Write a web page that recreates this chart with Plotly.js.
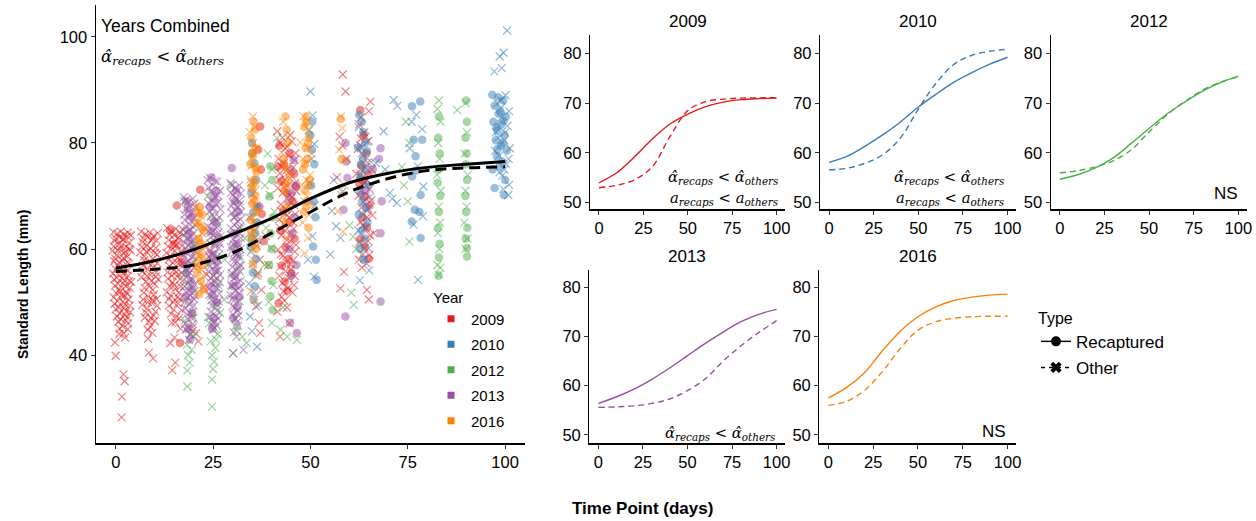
<!DOCTYPE html>
<html>
<head>
<meta charset="utf-8">
<script src="https://cdn.plot.ly/plotly-3.0.1.min.js"></script>
<style>html,body{margin:0;padding:0;background:#fff;}#chart{width:1256px;height:521px;}</style>
</head>
<body>
<div id="chart"></div>
<script>
// ---------------- DATA ----------------
const years = ['2009', '2010', '2012', '2013', '2016'];
const yearColors = ['#E41A1C', '#377EB8', '#4DAF4A', '#984EA3', '#FF7F00'];
const typeLabels = ['Recaptured', 'Other'];

// observed points [time point (days), standard length (mm)]
const obs2009Other = [
 [-0.6,63.2],[0.4,62.9],[1.3,63.3],[2.2,62.7],[3.1,63.1],[3.9,62.6],
 [-0.3,61.6],[0.8,60.9],[1.8,61.8],[2.7,60.4],[3.5,61.2],
 [-0.8,59.7],[0.2,58.9],[1.1,60.1],[2.0,59.2],[3.0,58.6],[3.8,59.8],
 [-0.4,57.7],[0.6,56.8],[1.6,57.9],[2.5,56.3],[3.4,57.2],
 [-0.7,55.4],[0.3,54.6],[1.2,55.9],[2.3,54.1],[3.2,55.0],[4.0,53.8],
 [-0.2,53.1],[0.9,52.4],[1.9,53.5],[2.8,51.8],[3.6,52.7],
 [-0.5,50.9],[0.5,50.2],[1.5,51.3],[2.4,49.6],[3.3,50.5],
 [0.0,48.7],[1.0,47.9],[2.1,48.9],[2.9,47.2],[3.7,48.1],
 [0.7,46.3],[1.7,45.5],[2.6,46.6],[3.1,44.9],[2.0,44.1],
 [-0.2,42.4],[0.0,39.9],[2.0,36.4],[2.3,35.1],[1.6,32.2],[1.5,28.3],
 [0.0,62.0],[1.0,62.2],[2.0,61.9],[3.0,62.4],[-0.5,60.5],[0.5,59.8],[1.5,60.7],[2.5,59.5],[3.5,60.0],[-0.1,58.2],
 [1.0,57.4],[2.0,58.3],[3.0,57.5],[0.0,56.2],[1.0,56.4],[2.0,55.4],[3.1,56.0],[-0.4,54.3],[0.6,53.5],[1.6,54.5],
 [2.6,53.0],[3.5,54.0],[0.1,51.7],[1.1,52.0],[2.1,51.1],[3.0,51.5],[-0.3,49.7],[0.8,49.0],[1.8,50.1],[2.7,48.3],
 [3.6,49.4],[0.3,47.3],[1.3,46.8],[2.3,47.6],[1.0,45.0],[2.4,43.3],[3.2,46.0],[0.9,44.0],
 [6.5,63.3],[7.6,62.8],[8.7,63.1],[9.8,62.5],[10.8,63.0],
 [6.9,61.3],[8.0,60.7],[9.1,61.6],[10.3,60.2],
 [6.3,59.4],[7.4,58.6],[8.5,59.8],[9.6,58.1],[10.6,59.0],
 [7.0,56.9],[8.2,56.2],[9.3,57.3],[10.4,55.6],
 [6.6,54.7],[7.8,53.9],[8.9,55.1],[10.0,53.4],[10.9,54.3],
 [7.2,51.8],[8.4,51.1],[9.5,52.3],[10.5,50.6],
 [6.8,49.5],[8.1,48.8],[9.2,49.9],[10.2,48.2],
 [7.5,47.1],[8.6,46.3],[9.7,47.5],[8.9,45.4],[9.4,44.2],[8.3,43.1],[8.5,40.5],[9.6,39.4],
 [7.1,62.0],[8.3,62.3],[9.4,62.0],[10.5,61.6],[6.7,60.4],[7.9,59.5],[9.0,60.1],[10.1,59.3],[7.3,57.9],[8.4,57.5],
 [9.6,56.5],[10.7,57.3],[6.9,55.8],[8.0,54.9],[9.2,54.0],[10.3,54.8],[7.4,52.7],[8.6,53.0],[9.8,51.4],[7.0,50.5],
 [8.3,50.0],[9.5,50.4],[10.6,49.3],[7.8,48.0],[9.0,47.0],[10.0,46.5],[8.2,44.8],
 [13.2,64.0],[14.3,63.4],[15.4,63.8],[16.5,63.1],[17.3,63.6],
 [13.6,61.7],[14.8,61.0],[15.9,62.0],[17.0,60.6],
 [13.0,59.3],[14.1,58.6],[15.2,59.7],[16.3,58.0],[17.2,59.0],
 [13.8,56.8],[15.0,56.1],[16.1,57.2],[16.9,55.5],
 [13.4,54.4],[14.6,53.7],[15.7,54.9],[16.7,53.0],
 [13.1,51.9],[14.2,51.2],[15.3,52.5],[16.4,50.6],
 [13.7,49.3],[14.9,48.6],[16.0,49.8],[15.5,47.2],[14.4,46.1],[16.6,45.0],[15.1,43.3],[14.0,42.3],[14.5,37.2],[15.3,38.6],
 [13.9,62.7],[15.1,62.6],[16.2,62.2],[13.4,60.5],[14.5,60.0],[15.6,60.8],[16.8,59.6],[13.6,58.0],[14.7,57.4],[15.9,58.4],
 [17.0,57.3],[13.3,55.6],[14.4,55.0],[15.5,55.6],[16.6,54.4],[13.9,53.0],[15.0,53.2],[16.2,51.8],[13.6,50.6],[14.8,50.0],
 [15.9,51.0],[16.9,48.5],[14.2,47.8],[15.3,46.2],[16.3,47.0],
 [19.8,45.3],[20.6,44.1],[21.2,42.6],[19.5,47.6],[22.8,57.5],[23.4,55.2],[24.1,59.6],[22.5,52.8],[25.5,54.0],
 [36.2,60.6],[37.0,58.0],[36.5,55.5],[37.4,52.3],[36.0,49.2],[36.8,46.1],[37.1,44.2],[42.2,43.5],[38.5,62.5],[39.2,57.0],
 [41.5,82.2],[42.8,81.0],[44.0,79.3],[45.2,80.3],[46.2,78.1],
 [41.8,77.0],[43.1,76.2],[44.4,77.6],[45.6,75.4],
 [42.2,74.3],[43.5,73.1],[44.8,74.6],[46.0,72.4],
 [41.6,71.5],[42.9,70.6],[44.1,71.9],[45.3,69.8],[46.4,70.9],
 [42.4,68.4],[43.7,67.5],[45.0,68.7],[46.1,66.6],
 [41.9,65.6],[43.2,64.7],[44.5,65.9],[45.7,63.8],
 [42.6,62.6],[43.9,61.7],[45.1,62.9],[46.3,60.8],
 [41.7,59.9],[43.0,58.8],[44.3,60.1],[45.5,57.9],
 [42.3,56.7],[43.6,55.8],[44.9,57.1],[46.0,54.9],
 [42.8,53.6],[44.2,52.7],[45.4,51.8],[43.3,50.3],[41.5,48.2],[44.6,46.0],
 [42.2,80.0],[43.5,79.0],[44.8,81.5],[45.9,76.8],[42.5,75.6],[43.9,74.9],[45.2,73.7],[42.0,73.0],[43.3,71.6],[44.6,70.2],
 [45.8,68.3],[42.7,67.0],[44.0,66.4],[45.4,65.2],[42.2,64.0],[43.5,63.5],[44.8,61.5],[46.0,59.5],[42.4,59.0],[43.8,57.5],
 [45.0,56.2],[42.0,55.0],[43.1,52.0],[44.5,54.5],[45.8,53.2],[42.6,51.0],[44.0,49.0],
 [58.3,92.9],[59.0,89.7],[57.5,81.2],[58.2,79.5],[59.3,77.0],[57.7,52.6],[58.6,55.7],[56.8,73.5],
 [65.4,87.8],[65.0,86.0],[62.5,83.5],[63.8,82.0],[64.9,80.4],[62.2,78.9],[63.5,77.6],[64.7,76.3],[65.8,75.0],
 [62.8,73.8],[64.0,72.6],[65.2,71.3],[62.4,70.1],[63.6,68.9],[64.8,67.6],[65.9,66.4],
 [62.9,65.1],[64.2,63.9],[65.3,62.6],[62.6,61.4],[63.9,60.2],[65.1,58.9],[64.4,57.3],[63.2,56.5],
 [64.5,52.3],[65.0,50.5],[66.3,63.0],[61.8,74.2],[63.0,80.8],[65.6,69.2],
 [63.0,84.8],[64.2,81.2],[62.8,79.6],[64.0,75.4],[63.3,74.8],[64.6,73.0],[63.0,71.0],[64.3,69.5],[63.1,67.8],[64.5,66.0],
 [63.5,64.5],[64.8,61.5],[63.4,59.0],[62.5,58.0]
];
const obs2009Recap = [
 [15.7,68.2],[14.0,63.6],[21.7,71.2],[16.5,42.3],[15.1,61.0],[17.0,57.5],
 [37.1,83.1],[36.6,78.7],[37.3,75.0],[36.9,68.0],[37.5,66.6],[38.0,61.5],
 [42.0,79.5],[44.7,78.0],[43.2,76.0],[45.8,74.2],[42.5,72.8],[44.0,70.5],[45.4,69.0],[43.0,67.2],[44.8,65.0],[42.2,63.5],
 [45.9,62.0],[43.6,60.4],[44.4,58.2],[42.7,56.9],[45.1,55.5],[43.4,53.9],[44.1,52.2],[41.8,49.8],[46.3,71.8],[41.6,75.5],
 [62.8,86.2],[63.6,81.5],[64.4,78.0],[63.0,75.8],[64.8,74.0],[62.6,72.3],[63.9,70.0],[65.2,68.2],[63.3,66.0],[64.5,64.1],
 [62.9,62.0],[64.0,60.5],[65.0,58.2],[63.5,72.9]
];
const obs2010Other = [
 [34.5,47.3],[35.4,51.8],[36.3,41.6],[35.0,44.5],[34.2,53.5],[36.0,55.0],[35.2,57.2],[34.7,59.5],[36.4,61.8],[35.6,63.5],
 [34.3,66.0],[36.1,68.2],[35.1,70.4],[34.8,72.6],[36.6,49.4],[35.8,64.8],
 [50.0,89.7],[50.6,85.2],[49.6,82.4],[51.0,79.8],[50.3,77.0],[49.8,72.5],[51.2,68.3],[50.5,62.4],[49.4,58.0],[50.9,54.8],
 [56.0,73.0],[56.6,64.3],[57.7,62.1],[55.5,67.2],[58.2,70.8],[55.1,59.0],
 [62.4,83.0],[64.6,80.2],[63.2,78.1],[65.6,76.4],[62.9,74.2],[64.2,72.0],[65.3,69.8],[63.5,66.4],[62.3,63.5],[64.9,60.1],
 [63.8,58.2],[65.1,56.0],[62.7,54.1],[63.0,79.0],[64.2,67.5],[62.6,61.0],[64.0,64.0],
 [68.8,82.2],[71.4,88.1],[72.3,87.0],[71.0,69.5],[72.2,68.7],[70.4,70.6],[66.8,76.2],[69.2,75.0],
 [77.2,85.3],[76.0,84.0],[78.7,82.6],[77.6,75.6],[79.0,71.8],[76.5,64.6],[78.9,66.2],[77.6,54.2],[75.5,79.0],
 [100.5,101.2],[99.6,97.0],[98.6,96.3],[99.1,94.1],[97.2,93.5],[100.1,89.0],[98.0,87.5],[101.0,86.0],[99.0,84.8],[100.6,83.2],
 [97.6,82.0],[99.8,80.5],[101.2,79.0],[98.4,77.6],[100.3,76.0],[99.2,73.8],[101.0,72.1],[99.5,71.3],[100.8,70.2],[98.8,86.5],[97.4,78.5],
 [99.0,88.0],[100.0,82.0],[98.2,81.0],[100.9,77.0],[98.6,74.5],[99.8,75.0]
];
const obs2010Recap = [
 [35.0,80.0],[35.6,76.2],[36.1,73.0],[34.8,70.6],[36.3,68.0],[35.3,66.8],[35.9,63.0],[34.6,60.5],[36.0,58.2],[35.2,55.6],[35.7,53.0],[35.4,50.5],
 [35.1,78.0],[36.3,65.0],[34.9,62.0],
 [50.5,84.0],[50.4,78.7],[51.0,76.0],[50.2,72.0],[51.3,66.0],[50.7,60.5],[51.4,58.0],[51.6,54.2],[50.0,81.5],[50.8,69.0],
 [62.5,85.3],[63.6,82.0],[62.2,79.2],[64.5,78.5],[63.0,76.0],[64.2,75.0],[62.7,73.5],[64.8,72.0],[63.3,69.0],[62.4,66.5],
 [64.6,65.0],[63.1,63.5],[64.0,62.0],[62.8,60.0],[63.7,58.0],[63.2,84.0],[64.0,80.0],[63.5,77.0],[62.9,70.5],[64.3,67.8],
 [76.1,86.9],[78.2,87.8],[76.5,80.6],[78.7,80.6],[77.0,77.5],[76.1,73.7],[78.3,70.2],[76.8,67.4],[78.0,67.0],[76.0,65.2],[78.3,62.1],[77.2,74.8],
 [96.7,89.1],[98.2,88.6],[99.5,88.0],[97.3,87.0],[98.8,86.0],[100.2,85.0],[97.0,84.0],[99.0,83.5],[98.0,82.4],[99.8,81.5],
 [97.6,80.5],[98.9,79.5],[100.4,78.6],[97.9,77.5],[99.3,76.5],[98.5,75.5],[100.0,73.0],[97.3,71.5],[99.7,70.2],[96.8,75.0],
 [98.3,85.5],[99.6,84.2],[97.8,83.0],[99.4,80.0],[98.0,78.8]
];
const obs2012Other = [
 [17.6,69.0],[18.8,66.4],[20.0,64.1],[18.2,62.0],[19.4,60.2],[20.4,58.1],[17.9,56.0],[19.1,54.3],[20.2,52.0],[18.5,50.1],
 [19.7,48.2],[17.7,46.5],[18.9,45.0],[20.1,43.6],[18.3,42.0],[19.5,41.0],[18.6,40.0],[19.0,38.6],[18.4,37.1],[18.4,34.1],[20.3,61.0],[17.5,55.2],
 [18.0,63.2],[19.6,57.0],[18.7,53.0],[20.0,47.0],[19.2,44.0],
 [23.6,70.0],[24.8,67.6],[26.0,65.1],[24.2,63.0],[25.5,61.0],[26.6,59.0],[23.9,57.1],[25.1,55.0],[26.3,53.2],[24.5,51.1],
 [25.8,49.0],[23.7,47.2],[24.9,45.6],[26.2,44.0],[24.4,42.6],[25.6,41.4],[24.7,40.0],[25.3,38.8],[25.0,37.4],[24.7,35.4],[24.7,30.3],[26.8,48.0],
 [24.3,66.0],[25.9,62.2],[24.6,58.0],[26.1,54.5],[25.2,50.0],[24.0,46.0],[25.7,43.0],
 [29.6,72.0],[31.0,68.2],[32.2,64.0],[30.2,60.4],[31.5,56.3],[29.8,53.0],[31.8,50.2],[30.6,47.0],[31.2,44.6],[32.5,43.5],
 [33.6,42.3],[30.1,40.4],[33.2,62.0],[28.0,58.0],[27.8,50.5],[30.6,66.0],[31.9,58.2],[29.7,55.0],[31.3,48.5],[30.8,45.5],
 [41.4,80.9],[39.0,78.0],[40.2,75.0],[38.3,72.0],[39.6,70.2],[40.8,67.0],[38.6,64.0],[39.9,60.2],[38.2,57.0],[40.5,53.2],
 [39.3,50.0],[40.1,46.1],[42.3,44.8],[44.0,43.5],[46.5,42.9],[43.0,49.0],
 [61.1,49.5],[60.5,51.8],[61.8,60.0],[61.0,62.3],[60.0,64.5],
 [74.5,84.0],[75.4,80.0],[74.0,72.0],[75.4,61.4],[73.5,75.5],[75.0,69.0],
 [83.0,88.0],[82.6,86.4],[83.4,84.0],[82.8,80.0],[83.2,77.0],[82.5,74.0],[83.5,71.0],[82.9,68.0],[83.3,65.0],[82.7,63.0],
 [83.1,60.0],[82.6,57.0],[83.0,55.2],[83.4,56.5],
 [87.7,86.2],[89.9,87.5],[90.2,82.0],[89.6,78.0],[90.4,74.0],[89.8,71.0],[90.1,68.0],[89.5,65.0],[90.3,62.0],[89.9,60.0]
];
const obs2012Recap = [
 [39.7,75.6],[40.2,73.0],[39.5,69.9],[40.4,66.0],[39.8,63.0],[40.1,60.0],[39.4,57.0],[40.0,54.0],[39.7,51.1],[40.3,48.5],
 [83.0,85.0],[82.8,81.0],[83.2,78.0],[83.0,75.0],[82.7,72.5],[83.3,70.0],[83.0,67.0],[82.8,64.0],[83.2,61.0],[83.0,58.4],[82.9,55.0],
 [90.0,88.0],[90.2,84.0],[89.8,81.0],[90.1,78.0],[89.9,76.0],[90.2,73.0],[89.8,70.0],[90.0,67.0],[90.3,64.0],[89.9,62.0],[90.2,60.2],[90.2,58.6]
];
const obs2013Other = [
 [17.5,69.8],[18.6,68.9],[19.8,69.5],[18.1,67.6],[19.3,66.8],[20.4,67.9],
 [17.8,65.5],[19.0,64.6],[20.1,65.8],[18.4,63.4],[19.6,62.5],
 [17.4,61.4],[18.7,60.6],[19.9,61.7],[18.2,59.3],[19.4,58.5],[20.5,59.6],
 [17.7,57.2],[18.9,56.4],[20.0,57.5],[18.5,55.1],[19.7,54.3],
 [17.6,53.0],[18.8,52.2],[20.2,53.4],[18.3,50.9],[19.5,50.1],[20.3,51.2],
 [17.9,48.8],[19.1,48.0],[20.0,49.3],[18.6,46.7],[19.8,45.9],[18.0,44.8],[19.2,43.9],[18.8,42.9],
 [18.0,69.2],[19.1,68.2],[20.2,68.6],[17.6,66.5],[18.8,65.9],[19.9,66.9],[17.9,64.3],[19.2,63.7],[20.3,64.5],[17.5,62.6],
 [18.6,61.9],[19.8,62.9],[18.0,60.2],[19.1,59.7],[20.3,60.6],[17.6,58.4],[18.8,57.8],[19.9,58.6],[17.8,56.2],[19.0,55.6],
 [20.2,56.5],[17.5,54.2],[18.6,53.6],[19.8,52.7],[18.0,51.9],[19.2,51.3],[17.7,50.0],[18.9,49.6],[20.1,50.6],[18.3,47.8],
 [19.5,47.0],[18.5,45.3],[19.6,44.5],[17.9,46.0],
 [23.6,73.0],[24.9,72.1],[26.1,72.7],[24.3,70.8],[25.6,69.9],[26.8,71.0],
 [23.9,68.6],[25.2,67.7],[26.4,68.8],[24.6,66.4],[25.9,65.5],
 [23.7,64.3],[25.0,63.4],[26.2,64.5],[24.4,62.2],[25.7,61.3],[26.9,62.4],
 [24.0,60.0],[25.3,59.1],[26.5,60.2],[24.7,57.9],[26.0,57.0],
 [23.8,55.8],[25.1,54.9],[26.3,56.0],[24.5,53.6],[25.8,52.7],[26.7,53.8],
 [24.1,51.4],[25.4,50.5],[26.6,51.6],[24.8,49.3],[26.1,48.4],[24.2,47.2],[25.5,46.3],[25.0,44.8],[25.9,45.6],
 [24.2,73.4],[25.5,72.8],[23.9,71.6],[25.0,70.6],[26.2,70.1],[24.5,69.1],[25.8,68.6],[26.9,67.5],[24.1,67.1],[25.3,66.1],
 [26.6,66.0],[24.8,65.0],[26.0,64.0],[23.8,63.3],[25.1,62.6],[26.4,63.1],[24.3,61.1],[25.5,60.5],[26.8,61.0],[24.6,59.0],
 [25.9,58.5],[23.9,58.6],[25.0,57.6],[26.3,58.0],[24.2,56.7],[25.6,55.8],[26.8,55.2],[24.4,54.5],[25.5,53.6],[26.2,52.6],
 [24.0,52.5],[25.2,51.7],[26.4,50.2],[24.6,50.4],[25.8,49.6],[24.4,48.2],[25.7,47.5],[24.9,46.2],[26.3,46.9],[25.3,45.2],
 [29.5,72.4],[30.6,71.5],[31.7,72.0],[30.1,70.2],[31.2,69.4],[32.2,70.5],
 [29.7,68.1],[30.8,67.3],[31.9,68.4],[30.3,66.0],[31.4,65.2],
 [29.6,63.9],[30.7,63.1],[31.8,64.2],[30.2,61.8],[31.3,61.0],[32.1,62.1],
 [29.9,59.7],[31.0,58.9],[32.0,60.0],[30.4,57.6],[31.5,56.8],
 [29.8,55.5],[30.9,54.7],[31.9,55.8],[30.5,53.4],[31.6,52.6],
 [29.5,51.3],[30.6,50.5],[31.7,51.6],[30.0,49.2],[31.1,48.4],[30.8,46.8],[31.4,45.5],[30.3,44.3],[31.0,43.5],[30.2,40.4],[32.8,41.0],
 [30.0,72.1],[31.2,71.0],[29.6,70.6],[30.7,69.6],[31.8,69.1],[30.2,68.7],[31.3,67.9],[32.2,67.0],[29.8,66.8],[30.9,66.2],
 [32.0,65.6],[30.4,64.6],[31.5,63.8],[29.7,62.7],[30.8,62.4],[31.9,62.9],[30.3,60.9],[31.4,60.3],[29.6,60.4],[30.7,59.4],
 [31.8,58.7],[30.1,58.2],[31.2,57.6],[32.1,56.9],[29.9,56.6],[31.0,56.1],[30.3,54.4],[31.4,53.8],[32.1,54.0],[29.7,53.2],
 [30.8,52.2],[31.9,52.9],[30.4,51.2],[31.4,50.2],[29.9,50.6],[30.6,49.0],[31.6,47.5],[30.2,47.6],[31.1,46.2]
];
const obs2013Recap = [
 [18.2,69.0],[19.5,66.0],[18.8,63.0],[19.9,60.0],[18.4,57.0],[19.3,54.0],[18.0,51.0],[19.7,48.0],[18.6,45.0],[19.1,43.0],
 [18.5,67.5],[19.2,61.5],[18.3,55.5],[19.6,52.5],
 [24.6,73.5],[25.8,71.0],[24.2,68.0],[25.4,65.0],[26.3,62.0],[24.9,59.0],[25.6,56.0],[24.4,53.0],[26.0,50.0],[25.1,47.0],[24.7,45.0],
 [25.2,69.5],[24.5,63.5],[25.9,57.5],[24.8,51.5],
 [29.8,75.3],[30.9,71.0],[31.5,67.0],[30.3,63.0],[31.2,59.0],[30.6,55.0],[31.8,51.0],[30.1,47.0],
 [30.5,69.0],[31.0,61.0],[30.2,53.0],[31.3,49.0],
 [45.7,76.8],[44.8,75.0],[46.2,72.0],[45.0,70.5],[44.4,69.0],[46.0,66.0],[45.3,63.0],[44.6,60.0],[46.4,57.0],[45.1,55.0],[44.8,46.1],[46.5,44.2],
 [59.0,80.0],[59.2,76.5],[59.5,73.4],[58.5,67.4],[68.0,79.0],[67.6,77.0],[68.3,69.0],[68.0,63.0],[68.0,50.1],[59.0,47.3],[64.2,71.0],[66.0,75.0]
];
const obs2016Other = [
 [20.6,68.0],[21.8,66.2],[22.8,64.0],[21.2,62.1],[22.3,60.0],[20.9,58.2],[22.0,56.1],[21.4,54.0],[22.6,52.1],[21.0,65.0],[22.9,61.2],[20.7,57.0],
 [21.5,67.0],[22.1,63.0],[21.1,59.5],[22.5,55.0],
 [35.2,85.0],[34.4,82.1],[36.2,79.0],[35.0,77.2],[36.6,75.0],[34.6,73.1],[35.8,71.0],[34.9,69.2],[36.4,67.0],[35.4,65.1],
 [34.3,63.0],[36.0,61.2],[35.1,58.0],[36.5,55.0],[34.7,52.0],[35.6,50.4],
 [35.8,83.0],[35.3,80.0],[34.8,75.6],[35.9,72.5],[35.4,68.0],[34.9,66.0],[35.7,62.0],[35.2,60.0],
 [43.0,84.0],[44.3,81.0],[42.6,78.2],[44.0,75.0],[43.4,72.1],[44.6,69.0],[42.8,66.0],[43.8,62.2],
 [48.2,85.0],[49.6,82.5],[47.4,80.1],[50.2,78.0],[48.7,76.2],[49.9,74.0],[47.8,72.1],[49.2,70.0],[50.4,68.2],[48.0,65.0],[49.4,62.1],[48.5,59.2],
 [48.8,83.8],[49.4,79.2],[48.1,77.0],[49.0,73.0],[48.4,69.0],[49.6,66.5],
 [57.8,85.0],[58.2,82.8],[57.4,78.7],[58.7,76.8],[57.9,70.2],[57.0,67.1],[58.4,63.3],[58.8,72.0]
];
const obs2016Recap = [
 [21.6,68.0],[22.2,66.5],[21.0,65.0],[22.5,63.5],[21.3,62.0],[22.0,60.5],[21.7,59.0],[22.4,57.0],[20.9,55.5],[21.9,54.0],[22.6,52.5],[21.4,51.5],
 [21.2,66.8],[22.0,64.2],[21.5,61.0],[22.3,58.2],[21.1,56.8],
 [35.4,84.0],[34.8,81.0],[35.9,79.0],[35.2,77.5],[34.6,76.0],[36.1,74.5],[35.5,73.0],[34.9,71.5],[35.8,70.0],[35.1,68.5],
 [36.2,67.0],[34.7,65.5],[35.6,64.0],[35.0,62.0],[36.0,60.0],[35.3,57.0],
 [35.7,82.5],[35.0,78.2],[35.9,75.4],[35.2,72.0],[35.6,69.2],[34.9,63.2],
 [43.6,85.0],[44.2,80.0],[43.1,77.0],[44.5,74.0],[43.3,71.0],[44.0,68.0],[43.7,65.0],[43.9,82.5],[43.4,75.5],[44.2,72.5],
 [49.0,85.0],[48.4,83.0],[49.6,81.0],[48.8,79.0],[49.3,77.0],[48.1,75.0],[49.8,73.0],[48.6,71.0],[49.1,69.0],[48.3,67.0],[49.5,64.0],
 [48.9,84.0],[49.3,80.0],[48.6,76.0],[49.5,72.0],[48.9,68.0],
 [57.8,84.5],[58.0,77.0]
];

// fitted curves (read at these time points)
const fitTime = [0, 10, 20, 30, 40, 50, 60, 70, 80, 90, 100];
const fitAllRecap = [56.4, 57.8, 59.9, 62.8, 65.8, 69.5, 72.5, 74.3, 75.4, 76.0, 76.5];
const fitAllOther = [55.8, 56.2, 57.0, 59.3, 63.0, 67.0, 70.8, 73.3, 74.8, 75.3, 75.5];
const fit2009Recap = [54.0, 56.0, 59.2, 62.8, 65.8, 67.8, 69.3, 70.2, 70.7, 70.9, 71.0];
const fit2009Other = [53.0, 53.5, 54.6, 57.2, 63.3, 68.5, 70.3, 70.8, 71.0, 71.05, 71.1];
const fit2010Recap = [58.1, 59.3, 61.3, 63.6, 66.2, 69.2, 71.8, 74.2, 76.1, 77.8, 79.2];
const fit2010Other = [56.6, 56.9, 57.9, 59.6, 63.0, 68.8, 74.0, 77.8, 79.6, 80.4, 80.8];
const fit2012Recap = [54.7, 55.6, 57.0, 59.0, 61.9, 64.9, 67.8, 70.2, 72.4, 74.1, 75.4];
const fit2012Other = [56.0, 56.4, 57.2, 58.4, 60.6, 64.2, 67.6, 70.3, 72.6, 74.2, 75.3];
const fit2013Recap = [56.4, 57.7, 59.3, 61.3, 63.6, 66.1, 68.6, 70.9, 73.0, 74.5, 75.5];
const fit2013Other = [55.6, 55.7, 55.9, 56.4, 57.3, 59.0, 61.4, 65.0, 68.1, 70.8, 73.2];
const fit2016Recap = [57.5, 59.6, 62.6, 67.0, 71.0, 74.0, 76.0, 77.3, 78.0, 78.4, 78.6];
const fit2016Other = [56.0, 56.8, 59.0, 62.8, 67.5, 71.3, 73.0, 73.7, 74.0, 74.1, 74.1];

const xTicks = [0, 25, 50, 75, 100];
const yTicksAll = [40, 60, 80, 100];
const yTicksYear = [50, 60, 70, 80];

// ---------------- BUILD ----------------
const W = 1256, H = 521;
const PX = p => p / W, PY = p => 1 - p / H;
const FONT = 'Liberation Sans, Arial, sans-serif';
const SERIF = 'DejaVu Serif, serif';
const TICKFS = 16.5;

const obsOther = [obs2009Other, obs2010Other, obs2012Other, obs2013Other, obs2016Other];
const obsRecap = [obs2009Recap, obs2010Recap, obs2012Recap, obs2013Recap, obs2016Recap];
const fitsRecap = [fit2009Recap, fit2010Recap, fit2012Recap, fit2013Recap, fit2016Recap];
const fitsOther = [fit2009Other, fit2010Other, fit2012Other, fit2013Other, fit2016Other];

const traces = [];
years.forEach((yr, i) => {
  traces.push({
    type: 'scatter', mode: 'markers', xaxis: 'x', yaxis: 'y', showlegend: false, hoverinfo: 'skip',
    x: obsOther[i].map(p => p[0]), y: obsOther[i].map(p => p[1]),
    marker: { symbol: 'x-thin-open', size: 8, color: yearColors[i], opacity: 0.55, line: { width: 1.2, color: yearColors[i] } }
  });
  traces.push({
    type: 'scatter', mode: 'markers', xaxis: 'x', yaxis: 'y', showlegend: false, hoverinfo: 'skip',
    x: obsRecap[i].map(p => p[0]), y: obsRecap[i].map(p => p[1]),
    marker: { symbol: 'circle', size: 8.5, color: yearColors[i], opacity: 0.5, line: { width: 0 } }
  });
});
// combined fits
traces.push({ type: 'scatter', mode: 'lines', xaxis: 'x', yaxis: 'y', showlegend: false, x: fitTime, y: fitAllRecap,
  line: { color: '#000', width: 3, shape: 'spline' } });
traces.push({ type: 'scatter', mode: 'lines', xaxis: 'x', yaxis: 'y', showlegend: false, x: fitTime, y: fitAllOther,
  line: { color: '#000', width: 3, dash: '11px,6px', shape: 'spline' } });

// per-year fits
years.forEach((yr, i) => {
  const ax = i + 2;
  traces.push({ type: 'scatter', mode: 'lines', xaxis: 'x' + ax, yaxis: 'y' + ax, showlegend: false, x: fitTime, y: fitsRecap[i],
    line: { color: yearColors[i], width: 1.4, shape: 'spline' } });
  traces.push({ type: 'scatter', mode: 'lines', xaxis: 'x' + ax, yaxis: 'y' + ax, showlegend: false, x: fitTime, y: fitsOther[i],
    line: { color: yearColors[i], width: 1.4, dash: '6px,4px', shape: 'spline' } });
});

// legend entries: Year
years.forEach((yr, i) => {
  traces.push({ type: 'scatter', mode: 'markers', x: [null], y: [null], xaxis: 'x', yaxis: 'y', name: yr,
    legend: 'legend', legendgroup: 'y' + yr, showlegend: true,
    marker: { symbol: 'square', size: 7, color: yearColors[i] } });
});
// legend entries: Type
traces.push({ type: 'scatter', mode: 'lines+markers', x: [null], y: [null], xaxis: 'x', yaxis: 'y', name: typeLabels[0],
  legend: 'legend2', legendgroup: 'tR', showlegend: true,
  marker: { symbol: 'circle', size: 10, color: '#000' }, line: { color: '#000', width: 1.4 } });
traces.push({ type: 'scatter', mode: 'lines+markers', x: [null], y: [null], xaxis: 'x', yaxis: 'y', name: typeLabels[1],
  legend: 'legend2', legendgroup: 'tO', showlegend: true,
  marker: { symbol: 'x', size: 10, color: '#000' }, line: { color: '#000', width: 1.4, dash: '4px,4px' } });

function xa(domPx, rangeV) {
  return { domain: [PX(domPx[0]), PX(domPx[1])], range: rangeV, tickvals: xTicks, ticktext: xTicks.map(String),
    showgrid: false, zeroline: false, showline: true, linecolor: '#000', linewidth: 1.2,
    ticks: 'outside', ticklen: 4, tickwidth: 1, tickcolor: '#333', tickfont: { size: TICKFS, color: '#000', family: FONT } };
}
function ya(domPx, rangeV, ticks) {
  return { domain: [PY(domPx[1]), PY(domPx[0])], range: rangeV, tickvals: ticks, ticktext: ticks.map(String),
    showgrid: false, zeroline: false, showline: true, linecolor: '#000', linewidth: 1.2,
    ticks: 'outside', ticklen: 4, tickwidth: 1, tickcolor: '#333', tickfont: { size: TICKFS, color: '#000', family: FONT } };
}

const layout = {
  width: W, height: H, margin: { l: 0, r: 0, t: 0, b: 0 },
  paper_bgcolor: '#fff', plot_bgcolor: '#fff',
  font: { family: FONT, color: '#000' },
  showlegend: true,
  xaxis: Object.assign(xa([95.7, 525], [-5.14, 105.1]), { anchor: 'y' }),
  yaxis: Object.assign(ya([5, 443.3], [23.4, 106], yTicksAll), { anchor: 'x' }),
  xaxis2: Object.assign(xa([590, 785], [-5.06, 104.7]), { anchor: 'y2' }),
  yaxis2: Object.assign(ya([35, 209.3], [48.67, 83.67], yTicksYear), { anchor: 'x2' }),
  xaxis3: Object.assign(xa([820, 1016], [-5.06, 104.7]), { anchor: 'y3' }),
  yaxis3: Object.assign(ya([35, 209.3], [48.67, 83.67], yTicksYear), { anchor: 'x3' }),
  xaxis4: Object.assign(xa([1050.7, 1246.7], [-5.06, 104.7]), { anchor: 'y4' }),
  yaxis4: Object.assign(ya([35, 209.3], [48.67, 83.67], yTicksYear), { anchor: 'x4' }),
  xaxis5: Object.assign(xa([589.3, 785], [-5.06, 104.7]), { anchor: 'y5' }),
  yaxis5: Object.assign(ya([270, 443.3], [48.3, 83.5], yTicksYear), { anchor: 'x5' }),
  xaxis6: Object.assign(xa([819.3, 1016], [-5.06, 104.7]), { anchor: 'y6' }),
  yaxis6: Object.assign(ya([270, 443.3], [48.3, 83.5], yTicksYear), { anchor: 'x6' }),
  legend: { title: { text: 'Year', font: { size: 15 } }, x: PX(431), y: PY(283), xanchor: 'left', yanchor: 'top',
    font: { size: 15 }, bgcolor: 'rgba(0,0,0,0)', tracegroupgap: 3, itemclick: false, itemdoubleclick: false },
  legend2: { title: { text: 'Type', font: { size: 16 } }, x: PX(1036), y: PY(303), xanchor: 'left', yanchor: 'top',
    font: { size: 17 }, bgcolor: 'rgba(0,0,0,0)', tracegroupgap: 1, itemclick: false, itemdoubleclick: false },
  annotations: []
};

const ahat = 'α̂';
const alphaTxt = `<i>${ahat}</i><sub><i>recaps</i></sub> &lt; <i>${ahat}</i><sub><i>others</i></sub>`;
const aTxt = `<i>a</i><sub><i>recaps</i></sub> &lt; <i>a</i><sub><i>others</i></sub>`;
function ann(text, px, py, o) {
  layout.annotations.push(Object.assign({ text: text, xref: 'paper', yref: 'paper', x: PX(px), y: PY(py),
    xanchor: 'center', yanchor: 'middle', showarrow: false, font: { family: FONT, size: 15, color: '#000' } }, o || {}));
}
// panel titles
const titlePos = [[687.5, 21.7], [918, 21.7], [1148.7, 21.7], [687.2, 256], [917.7, 256]];
years.forEach((yr, i) => ann(yr, titlePos[i][0], titlePos[i][1], { font: { family: FONT, size: 17, color: '#000' } }));
// combined panel
ann('Years Combined', 99, 26.5, { xanchor: 'left', font: { family: FONT, size: 17.5, color: '#000' } });
ann(alphaTxt, 99, 57, { xanchor: 'left', font: { family: SERIF, size: 16.5, color: '#000' } });
// per year notes
ann(alphaTxt, 780, 178, { xanchor: 'right', font: { family: SERIF, size: 14.8, color: '#000' } });
ann(aTxt, 780, 199, { xanchor: 'right', font: { family: SERIF, size: 14.8, color: '#000' } });
ann(alphaTxt, 1006, 178, { xanchor: 'right', font: { family: SERIF, size: 14.8, color: '#000' } });
ann(aTxt, 1006, 199, { xanchor: 'right', font: { family: SERIF, size: 14.8, color: '#000' } });
ann(alphaTxt, 777, 433, { xanchor: 'right', font: { family: SERIF, size: 14.8, color: '#000' } });
ann('NS', 1240, 193, { xanchor: 'right', font: { family: FONT, size: 17, color: '#000' } });
ann('NS', 1008, 431, { xanchor: 'right', font: { family: FONT, size: 17, color: '#000' } });
// axis titles
ann('<b>Standard Length (mm)</b>', 23, 285, { textangle: -90, font: { family: FONT, size: 14, color: '#000' } });
ann('<b>Time Point (days)</b>', 642, 508, { font: { family: FONT, size: 17, color: '#000' } });

Plotly.newPlot('chart', traces, layout, { staticPlot: true, displayModeBar: false });
</script>
</body>
</html>
